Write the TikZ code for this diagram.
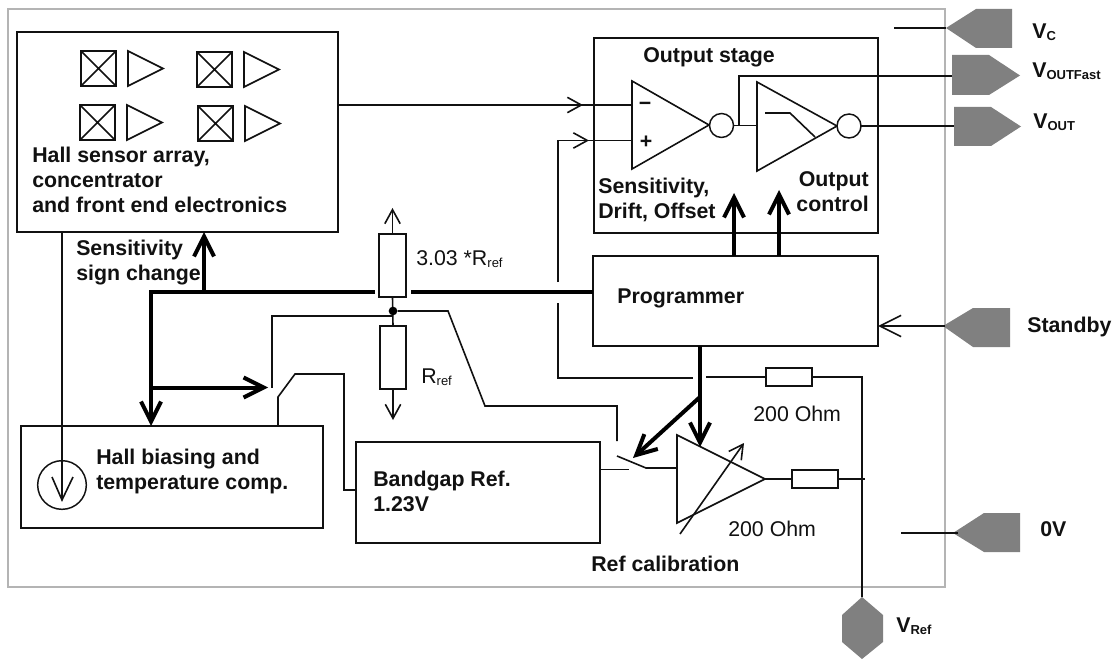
\documentclass[tikz,border=0pt]{standalone}
\usepackage{fontspec}
\setmainfont{Liberation Sans}
\usetikzlibrary{arrows.meta,fit,calc}
\definecolor{ink}{HTML}{111111}
\definecolor{pingray}{HTML}{808080}
\definecolor{frame}{HTML}{B4B4B4}
\newcommand{\subt}[1]{\raisebox{-1.5pt}{\fontsize{9.75}{10}\selectfont #1}}
\tikzset{
  wire/.style={draw=ink,line width=1.2pt,line join=miter},
  frameline/.style={draw=frame,line width=1.3pt},
  box/.style={draw=ink,line width=1.25pt,inner sep=0pt,outer sep=0pt,rectangle},
  res/.style={box,fill=white},
  pin/.style={fill=pingray,draw=none},
  thin arrow/.style={wire,-{Straight Barb[length=10.5pt,width=11.5pt,line width=1.2pt]}},
  long arrow/.style={wire,-{Straight Barb[length=16pt,width=16pt,line width=1.2pt]}},
  bus/.style={draw=black,line width=3pt},
  bus arrow/.style={bus,-{Straight Barb[length=15pt,width=15pt,line width=3pt]}},
  bold text/.style={inner sep=0pt,text=ink,font=\fontsize{16}{18.75}\selectfont\bfseries,align=left},
  plain text/.style={inner sep=0pt,text=ink,font=\fontsize{16}{18.75}\selectfont},
  bubble/.style={circle,draw=ink,line width=1.1pt,fill=white,minimum size=18pt,inner sep=0pt,outer sep=0pt},
}
\begin{document}
\begin{tikzpicture}[x=0.75pt,y=-0.75pt]
\useasboundingbox (0,0) rectangle (1120,659);
\fill[white] (0,0) rectangle (1120,659);
% chip outline
\draw[frameline] (8,9) rectangle (945,587);
% blocks
\node[box,fit={(17,32)(338,232)}] (hall) {};
\node[box,fit={(594,38)(878,233)}] (output) {};
\node[box,fit={(593,256)(878,346)}] (prog) {};
\node[box,fit={(21,426)(323,528)}] (bias) {};
\node[box,fit={(356,442)(600,543)}] (bandgap) {};
\node[res,fit={(379,234)(406,297)}] (rup) {};
\node[res,fit={(380,326)(406,389)}] (rdown) {};
\node[res,fit={(766,368)(812,386)}] (rtop) {};
\node[res,fit={(792,470)(838,488)}] (rout) {};
% sensor cells
\foreach \n/\x/\y in {a/81/51,b/197/52,c/80/105,d/198/106}{
  \node[box,fit={(\x,\y)($(\x,\y)+(35,35)$)}] (cell\n) {};
  \draw[wire] (cell\n.north west) -- (cell\n.south east) (cell\n.north east) -- (cell\n.south west);
  \draw[wire] ($(\x,\y)+(47,0)$) -- ($(\x,\y)+(47,35)$) -- ($(\x,\y)+(82,17.5)$) -- cycle;
}
% pins
\draw[pin] (946,28) -- (976,9) -- (1012,9) -- (1012,48) -- (976,48) -- cycle;
\draw[pin] (952,55) -- (989,55) -- (1020,75.5) -- (989,95) -- (952,95) -- cycle;
\draw[pin] (954,107) -- (991,107) -- (1021,126.5) -- (991,146) -- (954,146) -- cycle;
\draw[pin] (943,326) -- (973,308) -- (1010,308) -- (1010,347) -- (973,347) -- cycle;
\draw[pin] (953,533) -- (984,513) -- (1020,513) -- (1020,552) -- (984,552) -- cycle;
\draw[pin] (862,597) -- (883,615) -- (883,642) -- (862,659) -- (842,642) -- (842,615) -- cycle;
\coordinate (pvc) at (946,28);
\coordinate (pfast) at (952,76);
\coordinate (pout) at (954,126);
\coordinate (pstby) at (945,326);
\coordinate (pzero) at (958,533);
\coordinate (pref) at (862,597);
% amplifiers
\draw[wire] (632,81) -- (632,169) -- (709,125) -- cycle;
\draw[wire] (757,82) -- (757,171) -- (837,126) -- cycle;
\node[bubble] (o1) at (721.5,125.5) {};
\node[bubble] (o2) at (849,126) {};
\draw[wire] (765,113) -- (790,113) -- (815,137);
\coordinate (a1m) at (632,105);
\coordinate (a1p) at (632,140.5);
\coordinate (a2i) at (757,125.5);
\draw[wire] (677,435) -- (677,523) -- (765,479) -- cycle;
\coordinate (a3i) at (677,468);
\coordinate (a3o) at (765,479);
\draw[thin arrow] (680,534) -- (744,443);
% connectors: output stage
\draw[wire] (hall.east |- a1m) -- (a1m);
\draw[thin arrow] (hall.east |- a1m) -- (583,105);
\draw[wire] (558,282) -- (558,140.5) -- (a1p);
\draw[thin arrow] (558,140.5) -- (589,140.5);
\draw[wire] (o1.east) -- (a2i);
\draw[wire] (739,125.5) -- (739,76) -- (pfast);
\draw[wire] (o2.east) -- (pout);
\draw[wire] (894,28) -- (pvc);
\draw[wire] (901,533) -- (pzero);
\draw[long arrow] (pstby) -- (prog.east |- pstby);
% reference divider
\coordinate (rj) at (393,311);
\draw[thin arrow] (rup.north) -- (392.5,208);
\draw[thin arrow] (rdown.south) -- (393,420);
\draw[wire] (rup.south) -- (rdown.north);
\node[circle,fill=black,inner sep=0pt,minimum size=6.5pt] (dot) at (rj) {};
\draw[wire] (393,316) -- (272,316) -- (272,388);
\draw[wire] (dot) -- (448,311) -- (485,406) -- (617,406) -- (617,441);
% switches
\draw[wire] (bias.north -| 278,0) -- (278,397) -- (295,374) -- (344,374) -- (344,490) -- (bandgap.west |- 0,490);
\draw[wire] (bandgap.east |- 0,469.5) -- (629,469.5);
\draw[wire] (617,456) -- (646,468) -- (a3i);
% buses
\draw[bus] (375,292) -- (151,292) -- (151,400);
\draw[bus arrow] (151,292) -- (bias.north -| 151,0);
\draw[bus arrow] (204,292) -- (hall.south -| 204,0);
\draw[bus arrow] (151,387.5) -- (268,387.5);
\draw[bus] (411,292) -- (prog.west |- 0,292);
\draw[bus arrow] (prog.north -| 734,0) -- (734,193);
\draw[bus arrow] (prog.north -| 779,0) -- (779,190);
\draw[bus arrow] (prog.south -| 700,0) -- (700,447);
\draw[bus arrow] (700,397) -- (633,458);
% reference outputs
\draw[wire] (558,303) -- (558,378) -- (693,378);
\draw[wire] (706,377) -- (rtop.west);
\draw[wire] (rtop.east) -- (862,377) -- (pref);
\draw[wire] (a3o) -- (rout.west);
\draw[wire] (rout.east) -- (864.5,479);
% hall bias current source
\node[bubble,minimum size=36.5pt,fill=none] (src) at (62,485) {};
\draw[wire] (62,232) -- (62,500);
\draw[wire] (52,477) -- (62,500) -- (73,477);
% labels
\node[bold text,anchor=north west] (thall) at (32,147) {Hall sensor array,\\concentrator\\and front end electronics};
\node[bold text,anchor=north west] (tsign) at (76,240) {Sensitivity\\sign change};
\node[bold text,anchor=base west] (tout) at (643,63) {Output stage};
\node[bold text,anchor=north west] (tsens) at (598,178) {Sensitivity,\\Drift, Offset};
\node[bold text,anchor=north east,align=right] (tctl) at (869,171) {Output\\control};
\node[bold text,anchor=base west] (tprog) at (617,303) {Programmer};
\node[bold text,anchor=north west] (tbias) at (96,449) {Hall biasing and\\temperature comp.};
\node[bold text,anchor=north west] (tband) at (373,471) {Bandgap Ref.\\1.23V};
\node[bold text,anchor=base west] (tcal) at (591,571) {Ref calibration};
\node[bold text,anchor=base west] (tvc) at (1032,39) {V\subt{C}};
\node[bold text,anchor=base west] (tfast) at (1032,78) {V\subt{OUTFast}};
\node[bold text,anchor=base west] (tvout) at (1033,129) {V\subt{OUT}};
\node[bold text,anchor=base west] (tstby) at (1027,332) {Standby};
\node[bold text,anchor=base west] (tzero) at (1040,536) {0V};
\node[bold text,anchor=base west] (tvref) at (896,632) {V\subt{Ref}};
\node[plain text,anchor=base west] (t303) at (416,266) {3.03 *R\subt{ref}};
\node[plain text,anchor=base west] (trref) at (421,383) {R\subt{ref}};
\node[plain text,anchor=base west] (t200a) at (753,421) {200 Ohm};
\node[plain text,anchor=base west] (t200b) at (728,536) {200 Ohm};
\node[bold text] (tminus) at (645,106) {−};
\node[bold text] (tplus) at (646,142) {+};
\end{tikzpicture}
\end{document}
